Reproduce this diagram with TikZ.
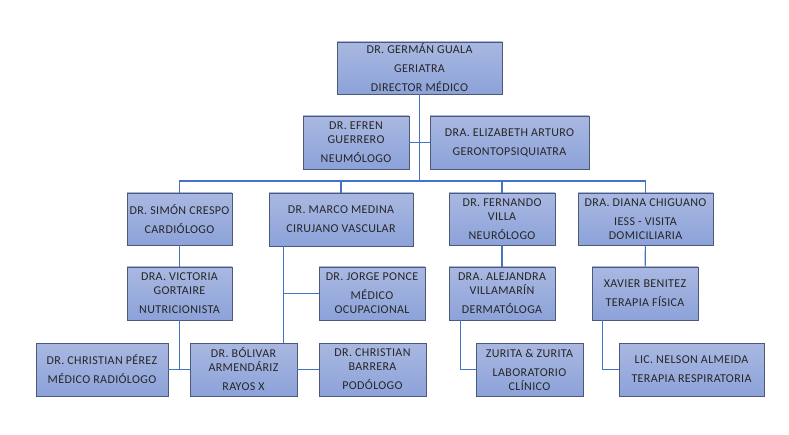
\documentclass[tikz,border=0pt]{standalone}
\usepackage{fontspec}
\setmainfont[LetterSpace=3]{Carlito}
\definecolor{azulsup}{HTML}{A9B8E1}
\definecolor{azulinf}{HTML}{8CA2D9}
\definecolor{borde}{HTML}{4C5A78}
\definecolor{conector}{HTML}{4472C4}
\definecolor{texto}{HTML}{262626}
\newcommand{\salto}{\\[5pt]}
\tikzset{
 cargo/.style={draw=borde, line width=0.8pt, top color=azulsup, bottom color=azulinf,
   minimum width=106, minimum height=53, inner sep=0pt, align=center,
   font=\fontsize{12}{14}\selectfont, text=texto},
 linea/.style={draw=conector, line width=1.1pt}
}

\begin{document}
\begin{tikzpicture}[x=1pt,y=-1pt]
\useasboundingbox (0,0) rectangle (789,435);
% nivel 1
\node[cargo, minimum width=165, minimum height=52] (ger) at (419.5,68) {DR. GERMÁN GUALA\salto GERIATRA\salto DIRECTOR MÉDICO};
\node[cargo] (efren) at (356,142.5) {DR. EFREN\\GUERRERO\salto NEUMÓLOGO};
\node[cargo, minimum width=159] (eliz) at (509.5,142.5) {DRA. ELIZABETH ARTURO\salto GERONTOPSIQUIATRA};
% nivel 2
\node[cargo, minimum width=105, minimum height=52] (simon) at (179.5,219) {DR. SIMÓN CRESPO\salto CARDIÓLOGO};
\node[cargo, minimum width=144] (marco) at (341,219.5) {DR. MARCO MEDINA\salto CIRUJANO VASCULAR};
\node[cargo, minimum height=52] (fernando) at (502,219) {DR. FERNANDO\\VILLA\salto NEURÓLOGO};
\node[cargo, minimum width=135, minimum height=52] (diana) at (645.5,219) {DRA. DIANA CHIGUANO\salto IESS - VISITA\\DOMICILIARIA};
% nivel 3
\node[cargo, minimum width=105] (victoria) at (179.5,293.5) {DRA. VICTORIA\\GORTAIRE\salto NUTRICIONISTA};
\node[cargo] (jorge) at (372,293.5) {DR. JORGE PONCE\salto MÉDICO\\OCUPACIONAL};
\node[cargo] (alejandra) at (502,293.5) {DRA. ALEJANDRA\\VILLAMARÍN\salto DERMATÓLOGA};
\node[cargo] (xavier) at (645,293.5) {XAVIER BENITEZ\salto TERAPIA FÍSICA};
% nivel 4
\node[cargo, minimum width=132] (perez) at (102,369.5) {DR. CHRISTIAN PÉREZ\salto MÉDICO RADIÓLOGO};
\node[cargo, minimum width=107] (bolivar) at (243.5,369.5) {DR. BÓLIVAR\\ARMENDÁRIZ\salto RAYOS X};
\node[cargo, minimum width=107] (barrera) at (372.5,369.5) {DR. CHRISTIAN\\BARRERA\salto PODÓLOGO};
\node[cargo, minimum width=107] (zurita) at (529.5,369.5) {ZURITA \& ZURITA\salto LABORATORIO\\CLÍNICO};
\node[cargo, minimum width=145] (nelson) at (691.5,369.5) {LIC. NELSON ALMEIDA\salto TERAPIA RESPIRATORIA};

% conectores
\coordinate (bus) at (ger.south |- 0,181);
\draw[linea] (ger) -- (bus);
\draw[linea] (efren) -- (eliz);
\foreach \n in {simon,marco,fernando,diana}
 \draw[linea] (bus) -| (\n);
\draw[linea] (simon) -- (victoria);
\draw[linea] (victoria) -- (victoria |- perez);
\draw[linea] (perez) -- (bolivar);
\draw[linea] (bolivar) -- (barrera);
\coordinate (mv) at ([xshift=15pt]marco.south west);
\draw[linea] (mv) -- (mv |- bolivar.north);
\draw[linea] (mv |- jorge) -- (jorge);
\draw[linea] (fernando) -- (alejandra);
\coordinate (zv) at ([xshift=12pt]alejandra.south west);
\draw[linea] (zv) |- (zurita);
\draw[linea] (diana) -- (xavier);
\coordinate (nv) at ([xshift=11pt]xavier.south west);
\draw[linea] (nv) |- (nelson);
\end{tikzpicture}
\end{document}
